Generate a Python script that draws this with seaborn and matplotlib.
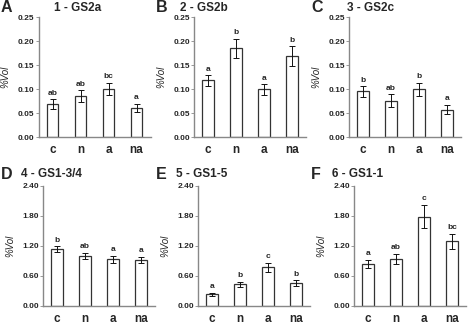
import pandas as pd
import seaborn as sns
import matplotlib.pyplot as plt
import numpy as np
from matplotlib.ticker import FormatStrFormatter

sns.set_style('white')
plt.rcParams['font.family'] = ['Liberation Sans', 'DejaVu Sans']

groups = ['c', 'n', 'a', 'na']

panels = ['A', 'B', 'C', 'D', 'E', 'F']
titles = ['1 - GS2a', '2 - GS2b', '3 - GS2c', '4 - GS1-3/4', '5 - GS1-5', '6 - GS1-1']

gs2a = [0.069, 0.085, 0.100, 0.061]
gs2a_err = [0.010, 0.013, 0.013, 0.008]
gs2b = [0.118, 0.185, 0.099, 0.168]
gs2b_err = [0.011, 0.020, 0.011, 0.021]
gs2c = [0.095, 0.076, 0.099, 0.057]
gs2c_err = [0.011, 0.013, 0.014, 0.010]
gs134 = [1.14, 1.00, 0.94, 0.93]
gs134_err = [0.06, 0.06, 0.07, 0.06]
gs15 = [0.24, 0.44, 0.78, 0.46]
gs15_err = [0.03, 0.05, 0.09, 0.06]
gs11 = [0.85, 0.95, 1.79, 1.30]
gs11_err = [0.08, 0.10, 0.23, 0.15]

letters = [['ab', 'ab', 'bc', 'a'],
           ['a', 'b', 'a', 'b'],
           ['b', 'ab', 'b', 'a'],
           ['b', 'ab', 'a', 'a'],
           ['a', 'b', 'c', 'b'],
           ['a', 'ab', 'c', 'bc']]

values = [gs2a, gs2b, gs2c, gs134, gs15, gs11]
errors = [gs2a_err, gs2b_err, gs2c_err, gs134_err, gs15_err, gs11_err]

W, H = 472, 324
fig = plt.figure(figsize=(W / 100, H / 100), dpi=100)

lefts = [38.5, 194, 349, 43, 198, 354]
axw = 112
rows_bottom = [137, 306]
axh = 120
title_x = [78, 204, 371, 51, 202, 358]
title_y = [8, 174]
letter_x = [1, 156, 311, 1, 156, 311]

for i in range(6):
    r = i // 3
    ax = fig.add_axes([lefts[i] / W, (H - rows_bottom[r]) / H, axw / W, axh / H])
    df = pd.DataFrame({'group': groups, 'vol': values[i]})
    sns.barplot(data=df, x='group', y='vol', ax=ax, color='white',
                edgecolor='#333333', linewidth=0.9, width=0.4, saturation=1)
    ax.errorbar(range(4), values[i], yerr=errors[i], fmt='none',
                ecolor='#111111', elinewidth=0.7, capsize=2, capthick=0.7)
    if r == 0:
        ax.set_ylim(0, 0.25)
        ax.set_yticks(np.arange(0, 0.26, 0.05))
        off = 0.005
    else:
        ax.set_ylim(0, 2.4)
        ax.set_yticks(np.arange(0, 2.41, 0.6))
        off = 0.05
    for j in range(4):
        ax.text(j, values[i][j] + errors[i][j] + off, letters[i][j],
                ha='center', va='bottom', fontsize=6, fontweight='bold')
    ax.set_xlim(-0.5, 3.5)
    ax.yaxis.set_major_formatter(FormatStrFormatter('%.2f'))
    ax.set_xlabel('')
    ax.set_ylabel('%Vol', fontsize=7, style='italic', labelpad=5)
    for s in ['top', 'right']:
        ax.spines[s].set_visible(False)
    for s in ['left', 'bottom']:
        ax.spines[s].set_color('#888888')
        ax.spines[s].set_linewidth(1.0)
    ax.tick_params(axis='y', length=2, width=0.6, color='#888888', pad=1,
                   labelsize=6, left=True)
    ax.tick_params(axis='x', length=0, pad=5, labelsize=8.5)
    for t in ax.get_yticklabels() + ax.get_xticklabels():
        t.set_fontweight('bold')
    fig.text(title_x[i] / W, 1 - title_y[r] / H, titles[i], ha='center',
             va='center', fontsize=8.5, fontweight='bold')
    fig.text(letter_x[i] / W, 1 - title_y[r] / H, panels[i], ha='left',
             va='center', fontsize=11.5, fontweight='bold')

fig.savefig('out.png', dpi=100)
